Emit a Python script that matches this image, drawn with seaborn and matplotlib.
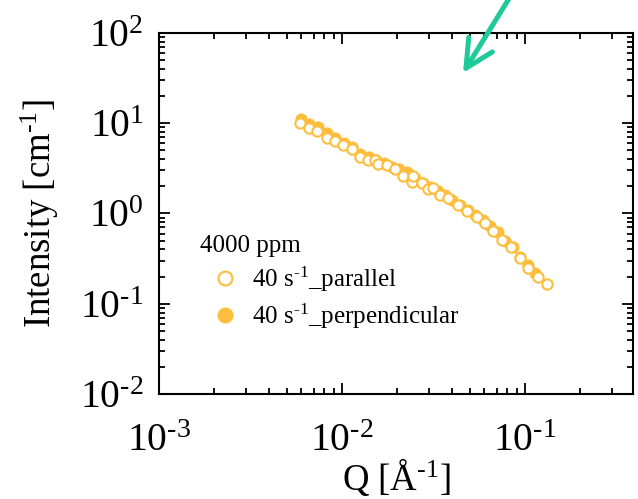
import matplotlib
matplotlib.use("Agg")
import matplotlib.pyplot as plt
from matplotlib.lines import Line2D
from matplotlib.ticker import LogLocator, NullFormatter, FuncFormatter
import seaborn as sns
import pandas as pd
import numpy as np

# ---- data ----
q_parallel = [0.0059, 0.0066, 0.0073, 0.0083, 0.0092, 0.0101, 0.0113, 0.0125,
              0.0139, 0.0151, 0.0157, 0.0176, 0.0195, 0.0215, 0.0241, 0.0244,
              0.0274, 0.0295, 0.0314, 0.0343, 0.0379, 0.0431, 0.0482, 0.0547,
              0.0604, 0.0668, 0.0748, 0.0839, 0.0940, 0.1038, 0.1178, 0.1318]
I_parallel = [10.1, 8.86, 8.20, 6.87, 6.36, 5.74, 5.19, 4.23,
              3.92, 3.92, 3.54, 3.45, 3.11, 2.60, 2.23, 2.60,
              2.18, 1.87, 1.92, 1.60, 1.49, 1.24, 1.07, 0.914,
              0.785, 0.640, 0.508, 0.426, 0.321, 0.249, 0.198, 0.166]

q_perpendicular = [0.0060, 0.0066, 0.0074, 0.0083, 0.0092, 0.0102, 0.0113, 0.0126,
                   0.0140, 0.0153, 0.0170, 0.0188, 0.0206, 0.0226, 0.0250, 0.0276,
                   0.0303, 0.0333, 0.0366, 0.0402, 0.0442, 0.0486, 0.0534, 0.0587,
                   0.0646, 0.0710, 0.0780, 0.0858, 0.0943, 0.1037, 0.1140]
I_perpendicular = [11.2, 9.8, 9.0, 7.7, 6.8, 6.0, 5.4, 4.6,
                   4.2, 3.9, 3.6, 3.3, 3.1, 2.85, 2.45, 2.2,
                   1.98, 1.78, 1.62, 1.40, 1.24, 1.10, 0.96, 0.84,
                   0.72, 0.62, 0.50, 0.43, 0.33, 0.27, 0.22]

legend_title = "4000 ppm"
labels = ["40 s$^{\\text{-}1}$_parallel", "40 s$^{\\text{-}1}$_perpendicular"]
x_label = "Q [Å$^{\\text{-}1}$]"
y_label = "Intensity [cm$^{\\text{-}1}$]"

color = "#FDBE3E"
arrow_color = "#1EC99A"

sns.set_theme(style="ticks")
plt.rcParams["font.family"] = ["Liberation Serif", "DejaVu Serif"]
plt.rcParams["mathtext.fontset"] = "custom"
plt.rcParams["mathtext.rm"] = "Liberation Serif"
plt.rcParams["mathtext.it"] = "Liberation Serif:italic"
plt.rcParams["mathtext.bf"] = "Liberation Serif:bold"
for k in ["text.color", "axes.labelcolor", "xtick.color", "ytick.color",
          "axes.edgecolor"]:
    plt.rcParams[k] = "black"


def log_fmt(v, pos):
    e = int(round(np.log10(v)))
    es = ("\\text{-}%d" % abs(e)) if e < 0 else "%d" % e
    return "$\\mathdefault{10^{%s}}$" % es


fig = plt.figure(figsize=(6.38, 4.99), dpi=100)
ax = fig.add_axes([0.2492, 0.2104, 0.7430, 0.7235])

df_perp = pd.DataFrame({"Q": q_perpendicular, "I": I_perpendicular})
df_par = pd.DataFrame({"Q": q_parallel, "I": I_parallel})

sns.scatterplot(data=df_perp, x="Q", y="I", ax=ax, s=55, color=color,
                edgecolor=color, linewidth=1.3, zorder=3, legend=False)
sns.scatterplot(data=df_par, x="Q", y="I", ax=ax, s=55, color="white",
                edgecolor=color, linewidth=1.5, zorder=4, legend=False)

ax.set_xscale("log")
ax.set_yscale("log")
ax.set_xlim(1e-3, 0.39)
ax.set_ylim(1e-2, 1e2)

ax.xaxis.set_major_locator(LogLocator(base=10, numticks=10))
ax.yaxis.set_major_locator(LogLocator(base=10, numticks=10))
ax.xaxis.set_minor_locator(LogLocator(base=10, subs=range(2, 10), numticks=20))
ax.yaxis.set_minor_locator(LogLocator(base=10, subs=range(2, 10), numticks=20))
ax.xaxis.set_major_formatter(FuncFormatter(log_fmt))
ax.yaxis.set_major_formatter(FuncFormatter(log_fmt))
ax.xaxis.set_minor_formatter(NullFormatter())
ax.yaxis.set_minor_formatter(NullFormatter())

for s in ax.spines.values():
    s.set_linewidth(1.5)
    s.set_color("black")
ax.tick_params(which="both", direction="in", top=True, right=True,
               color="black", width=1.3)
ax.tick_params(which="major", length=8, labelsize=28.5)
ax.tick_params(which="minor", length=4)
ax.tick_params(axis="x", which="major", pad=21)
ax.tick_params(axis="y", which="major", pad=11)

ax.set_xlabel(x_label, fontsize=26.5, labelpad=-3)
ax.set_ylabel(y_label, fontsize=26.5, labelpad=14)

handles = [
    Line2D([], [], linestyle="none", marker="o", markersize=10,
           markerfacecolor="white", markeredgecolor=color, markeredgewidth=1.5),
    Line2D([], [], linestyle="none", marker="o", markersize=10,
           markerfacecolor=color, markeredgecolor=color, markeredgewidth=1.5),
]
leg = ax.legend(handles, labels, title=legend_title, loc="upper left",
                bbox_to_anchor=(0.086, 0.44), frameon=False, fontsize=18,
                title_fontsize=18, alignment="left", handlelength=2.0,
                handletextpad=0.1, labelspacing=0.3, borderpad=0,
                borderaxespad=0)

ax.annotate("", xy=(463, 426), xycoords="figure pixels",
            xytext=(510, 502), textcoords="figure pixels",
            arrowprops=dict(arrowstyle="->,head_length=20,head_width=10",
                            mutation_scale=1, color=arrow_color, lw=3.6,
                            shrinkA=0, shrinkB=0, capstyle="round",
                            joinstyle="round"),
            annotation_clip=False)

fig.savefig("out.png", dpi=100)
